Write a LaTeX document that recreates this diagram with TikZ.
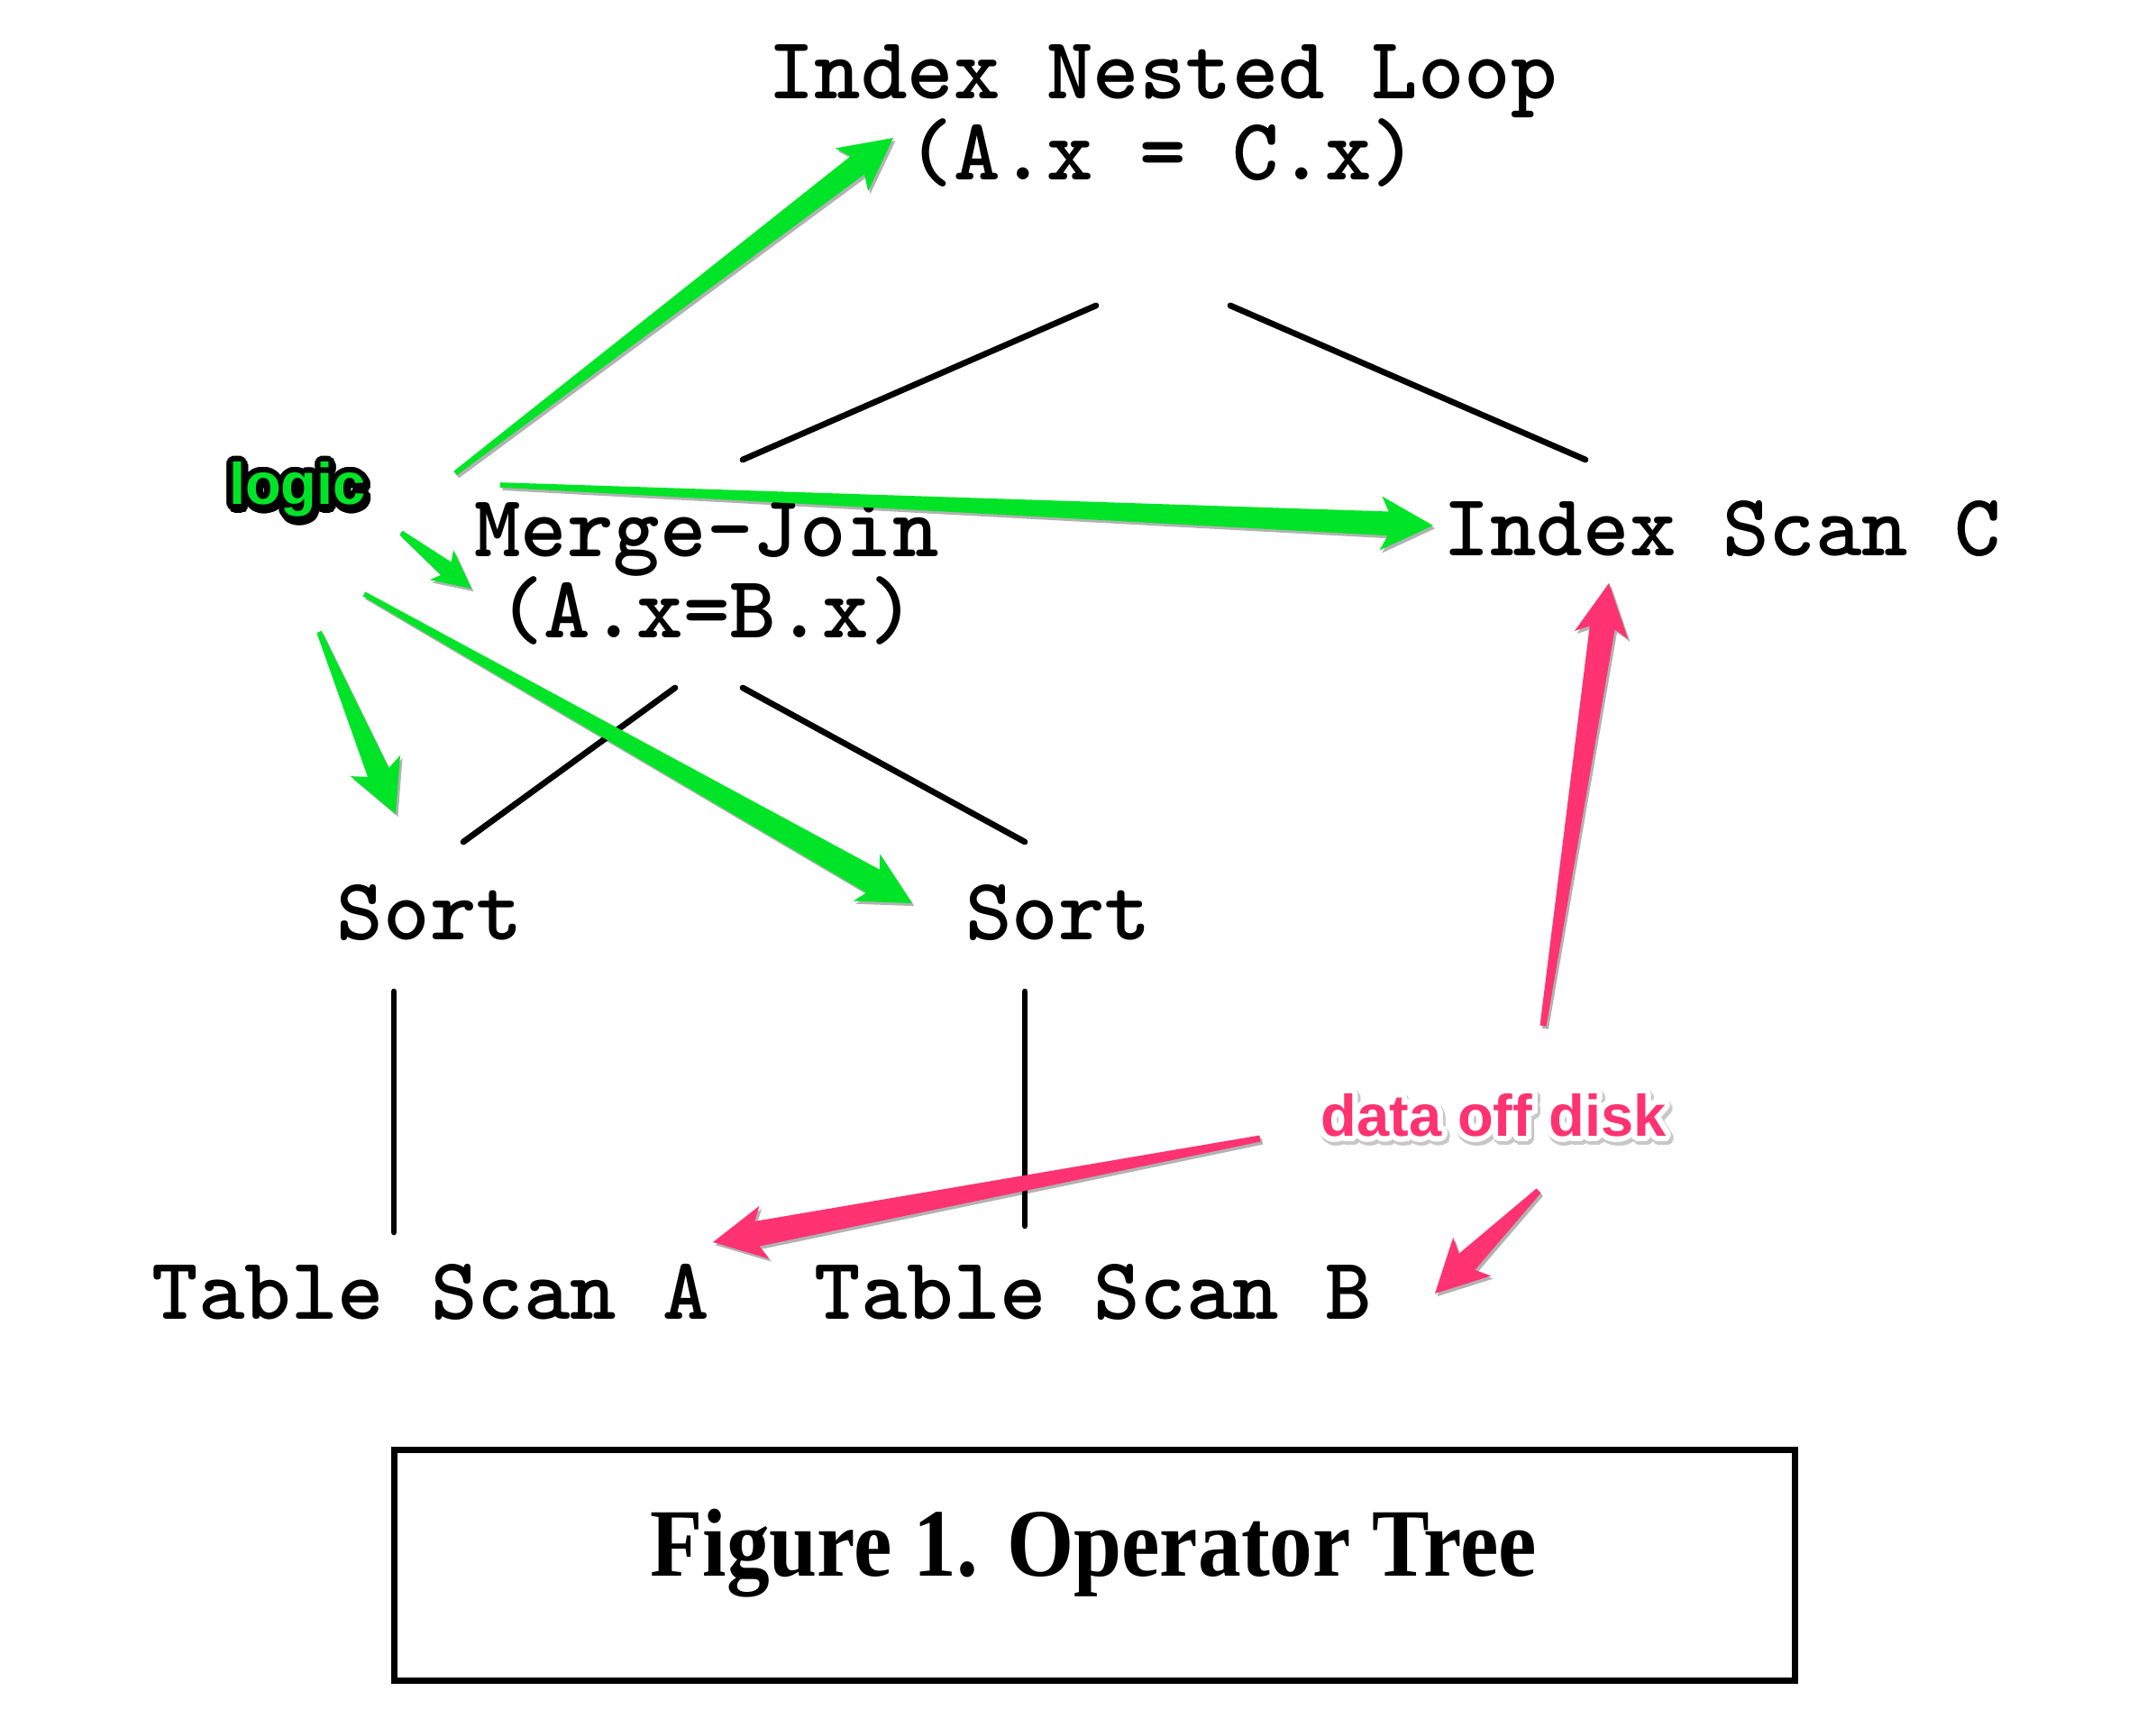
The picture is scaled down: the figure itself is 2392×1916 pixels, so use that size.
\documentclass[tikz,border=0pt]{standalone}
\usepackage{fontspec}
\usepackage{graphicx}
\setmainfont{Liberation Serif}
\newfontfamily\notefont{Liberation Sans}
\usetikzlibrary{calc,shadows}

\definecolor{notegreen}{RGB}{0,228,40}
\definecolor{notepink}{RGB}{255,51,113}

\tikzset{
  op/.style={font=\ttfamily\bfseries\fontsize{27.9pt}{25.6pt}\selectfont,
             align=center, anchor=base, inner sep=0pt},
  treeedge/.style={line width=1.9pt, line cap=round},
  arrowshadow/.style={drop shadow={shadow xshift=0.7pt, shadow yshift=-0.9pt,
                                   opacity=0.3, fill=black}},
  greenarrow/.style={fill=notegreen, arrowshadow},
  pinkarrow/.style={fill=notepink, arrowshadow},
  notetext/.style={font=\notefont\bfseries\fontsize{18.5pt}{20pt}\selectfont,
                   anchor=base, inner sep=0pt},
  captiontext/.style={font=\bfseries\fontsize{30.5pt}{32pt}\selectfont,
                      anchor=base, inner sep=0pt}
}

% Hand-drawn style arrow: tapered shaft and notched head.
% #1 style, #2 tail, #3 tip, #4 head length, #5 notch depth,
% #6 head half width, #7 shaft half width at head, #8 tail half width
\newcommand\skarrow[8]{%
  \path ($(#3)!#4!(#2)$) coordinate (ab) ($(#3)!#5!(#2)$) coordinate (an);
  \fill[#1] ($(#2)!#8!90:(#3)$) -- ($(an)!#7!90:(#3)$) -- ($(ab)!#6!90:(#3)$)
    -- (#3) -- ($(ab)!#6!-90:(#3)$) -- ($(an)!#7!-90:(#3)$)
    -- ($(#2)!#8!-90:(#3)$) -- cycle;
}

\begin{document}
\begin{tikzpicture}[x=0.01cm, y=-0.01cm]
  \fill[white] (0,0) rectangle (2392,1916);
  \useasboundingbox (0,0) rectangle (2392,1916);

  % operator tree (two-line nodes are placed by their last baseline)
  \node[op] (inl) at (1290,200) {Index Nested Loop\\(A.x = C.x)};
  \node[op] (mj)  at (784,708)  {Merge-Join\\(A.x=B.x)};
  \node[op] (isc) at (1911,617) {Index Scan C};
  \node[op] (sortl) at (477,1042) {Sort};
  \node[op] (sortr) at (1174,1042) {Sort};
  \node[op] (tsa) at (478,1463) {Table Scan A};
  \node[op] (tsb) at (1213,1463) {Table Scan B};

  % edge end points
  \coordinate (inl-l) at (1216,339);  \coordinate (mj-t)  at (824,510);
  \coordinate (inl-r) at (1365,339);  \coordinate (isc-t) at (1759,510);
  \coordinate (mj-l)  at (749,763);   \coordinate (sortl-t) at (514,934);
  \coordinate (mj-r)  at (824,763);   \coordinate (sortr-t) at (1137,934);
  \coordinate (sortl-b) at (437,1100); \coordinate (tsa-t) at (437,1367);
  \coordinate (sortr-b) at (1137,1100); \coordinate (tsb-t) at (1137,1360);

  \draw[treeedge] (inl-l) -- (mj-t);
  \draw[treeedge] (inl-r) -- (isc-t);
  \draw[treeedge] (mj-l) -- (sortl-t);
  \draw[treeedge] (mj-r) -- (sortr-t);
  \draw[treeedge] (sortl-b) -- (tsa-t);
  \draw[treeedge] (sortr-b) -- (tsb-t);

  % caption
  \node[draw, line width=2pt, minimum width=15.53cm, minimum height=2.55cm,
        inner sep=0pt] (capbox) at (1214.5,1736.5) {};
  \node[captiontext] (captext) at (1213,1748)
    {\scalebox{0.89}[1]{Figure 1. Operator Tree}};

  % "logic" annotation
  \coordinate (logicpos) at (330,560);
  \foreach \a in {0,15,...,345}
    \node[notetext, text=black] at ($(logicpos)+(0.5pt,-0.8pt)+(\a:1.8pt)$) {logic};
  \foreach \a in {0,15,...,345}
    \node[notetext, text=black] at ($(logicpos)+(\a:1.8pt)$) {logic};
  \node[notetext, text=notegreen] (logic) at (logicpos) {logic};

  \coordinate (g1t) at (505,525);  \coordinate (g1h) at (991,153);
  \coordinate (g2t) at (555,538);  \coordinate (g2h) at (1590,583);
  \coordinate (g3t) at (445,591);  \coordinate (g3h) at (523,653);
  \coordinate (g4t) at (354,701);  \coordinate (g4h) at (439,903);
  \coordinate (g5t) at (404,659);  \coordinate (g5h) at (1012,1002);

  \skarrow{greenarrow}{g1t}{g1h}{16.5pt}{14.2pt}{8.5pt}{3.6pt}{0.8pt}
  \skarrow{greenarrow}{g2t}{g2h}{16.5pt}{14.2pt}{8.5pt}{3.8pt}{0.8pt}
  \skarrow{greenarrow}{g3t}{g3h}{12pt}{10.2pt}{6pt}{2.6pt}{0.8pt}
  \skarrow{greenarrow}{g4t}{g4h}{16.5pt}{14.2pt}{8.5pt}{3.6pt}{0.8pt}
  \skarrow{greenarrow}{g5t}{g5h}{16.5pt}{14.2pt}{8.5pt}{4.2pt}{0.8pt}

  % "data off disk" annotation
  \coordinate (diskpos) at (1657,1260);
  \foreach \a in {0,15,...,345}
    \node[notetext, text=black!22] at ($(diskpos)+(0.6pt,-1pt)+(\a:2pt)$) {data off disk};
  \foreach \a in {0,15,...,345}
    \node[notetext, text=white] at ($(diskpos)+(\a:1.8pt)$) {data off disk};
  \node[notetext, text=notepink] (disk) at (diskpos) {data off disk};

  \coordinate (p1t) at (1712,1138); \coordinate (p1h) at (1785,647);
  \coordinate (p2t) at (1398,1263); \coordinate (p2h) at (791,1378);
  \coordinate (p3t) at (1707,1321); \coordinate (p3h) at (1592,1435);

  \skarrow{pinkarrow}{p1t}{p1h}{16.5pt}{14.2pt}{8.5pt}{4pt}{1pt}
  \skarrow{pinkarrow}{p2t}{p2h}{16.5pt}{14.2pt}{8.5pt}{4pt}{1pt}
  \skarrow{pinkarrow}{p3t}{p3h}{16.5pt}{14.2pt}{8.5pt}{3.6pt}{1pt}
\end{tikzpicture}
\end{document}
